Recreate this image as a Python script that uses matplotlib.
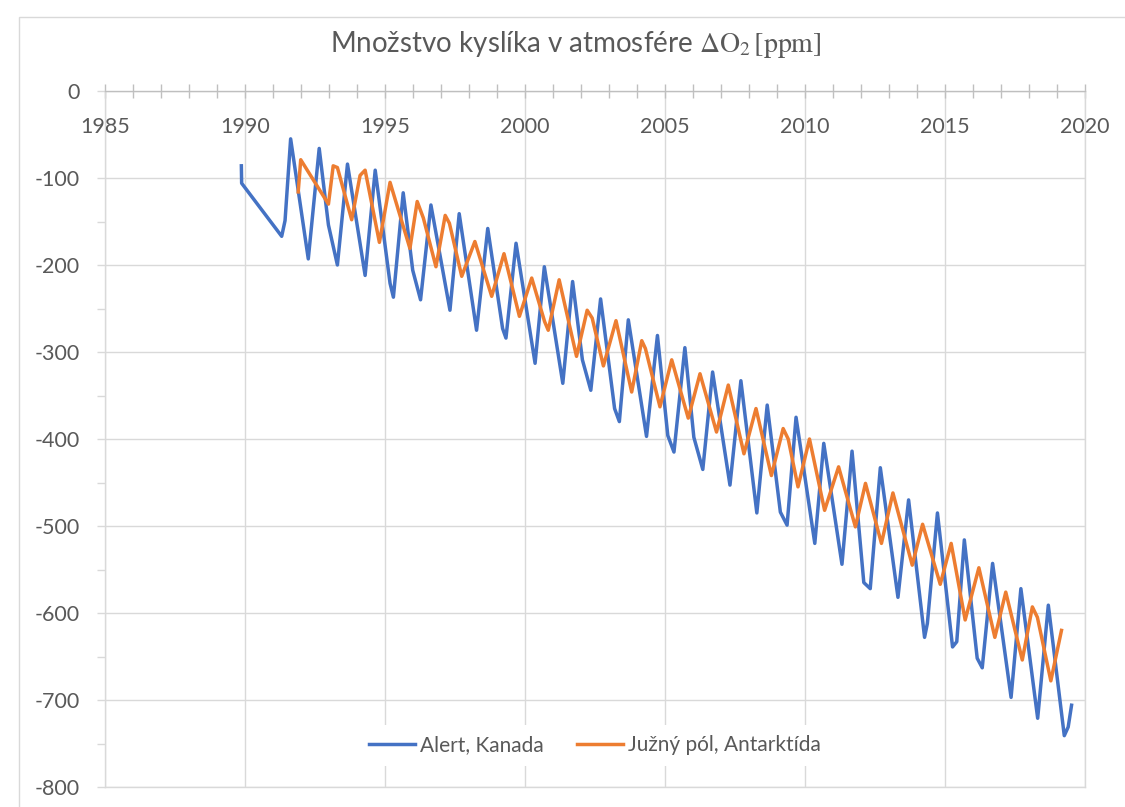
import matplotlib
matplotlib.use("Agg")
import matplotlib.pyplot as plt
from matplotlib.patches import Rectangle
from matplotlib.ticker import MultipleLocator, FixedLocator

plt.rcParams['font.family'] = ['Lato', 'DejaVu Sans']
plt.rcParams['mathtext.fontset'] = 'stix'
plt.rcParams['axes.unicode_minus'] = False

# seasonal extremes of the delta O2 record, (decimal year, ppm)
alert_year = [1989.87, 1989.88, 1991.31, 1991.43, 1991.63, 1992.26, 1992.65, 1992.98,
              1993.30, 1993.66, 1994.29, 1994.65, 1995.18, 1995.30, 1995.65, 1995.99,
              1996.27, 1996.64, 1997.32, 1997.65, 1998.27, 1998.67, 1999.20, 1999.32,
              1999.68, 2000.36, 2000.69, 2001.35, 2001.70, 2002.05, 2002.35, 2002.70,
              2003.20, 2003.37, 2003.69, 2004.34, 2004.73, 2005.10, 2005.32, 2005.71,
              2006.03, 2006.35, 2006.70, 2007.32, 2007.71, 2008.28, 2008.65, 2009.12,
              2009.36, 2009.68, 2010.35, 2010.67, 2011.32, 2011.68, 2012.10, 2012.33,
              2012.69, 2013.32, 2013.70, 2014.27, 2014.37, 2014.73, 2015.27, 2015.42,
              2015.69, 2016.15, 2016.33, 2016.70, 2017.36, 2017.71, 2018.31, 2018.69,
              2019.26, 2019.40, 2019.52]
alert_o2 = [-86, -106, -167, -149, -55, -193, -66, -154,
            -200, -84, -212, -91, -221, -237, -117, -206,
            -240, -131, -252, -141, -275, -158, -273, -284,
            -175, -313, -202, -336, -219, -309, -344, -239,
            -365, -380, -263, -397, -281, -396, -415, -295,
            -398, -435, -323, -453, -333, -485, -361, -484,
            -499, -375, -520, -405, -544, -414, -565, -572,
            -433, -582, -470, -628, -612, -485, -639, -633,
            -516, -652, -663, -543, -697, -572, -721, -591,
            -741, -731, -706]

pole_year = [1991.90, 1991.99, 1992.98, 1993.15, 1993.30, 1993.81, 1994.11, 1994.29,
             1994.80, 1995.18, 1995.89, 1996.15, 1996.37, 1996.82, 1997.15, 1997.30,
             1997.74, 1998.21, 1998.81, 1999.25, 1999.80, 2000.24, 2000.70, 2000.83,
             2001.22, 2001.84, 2002.22, 2002.40, 2002.80, 2003.25, 2003.81, 2004.17,
             2004.30, 2004.82, 2005.24, 2005.83, 2006.25, 2006.84, 2007.26, 2007.82,
             2008.25, 2008.80, 2009.22, 2009.40, 2009.75, 2010.16, 2010.70, 2011.20,
             2011.80, 2012.16, 2012.73, 2013.14, 2013.83, 2014.20, 2014.83, 2015.22,
             2015.72, 2016.21, 2016.78, 2017.17, 2017.76, 2018.12, 2018.30, 2018.78,
             2019.16]
pole_o2 = [-116, -79, -130, -86, -88, -148, -97, -91,
           -174, -105, -181, -127, -146, -202, -143, -152,
           -213, -173, -236, -187, -259, -215, -265, -275,
           -217, -305, -252, -261, -316, -264, -346, -287,
           -296, -363, -309, -376, -325, -392, -338, -417,
           -365, -442, -388, -400, -455, -400, -482, -432,
           -501, -451, -520, -462, -545, -498, -567, -520,
           -608, -548, -628, -576, -654, -593, -605, -678,
           -620]

series_names = ['Alert, Kanada', 'Južný pól, Antarktída']
title_text = 'Množstvo kyslíka v atmosfére $\\Delta\\mathrm{O}_2\\,[\\mathrm{ppm}]$'

grid_c = '#D9D9D9'
axis_c = '#BFBFBF'
text_c = '#595959'

fig = plt.figure(figsize=(11.25, 8.07), dpi=100)
fig.patches.append(Rectangle((19 / 1125, -0.1), 1.2, 1.1 - 17 / 807, transform=fig.transFigure,
                             fill=False, edgecolor=grid_c, lw=1.0))

ax = fig.add_axes([105 / 1125, 1 - 787 / 807, 980 / 1125, 696 / 807])
ax.set_xlim(1985, 2020)
ax.set_ylim(-800, 0)

ax.plot(alert_year, alert_o2, color='#4472C4', lw=2.5, solid_joinstyle='round', label=series_names[0])
ax.plot(pole_year, pole_o2, color='#ED7D31', lw=2.5, solid_joinstyle='round', label=series_names[1])

# category axis sits on the zero line at the top
ax.xaxis.tick_top()
ax.xaxis.set_major_locator(MultipleLocator(5))
ax.xaxis.set_minor_locator(MultipleLocator(1))
ax.tick_params(axis='x', which='both', direction='inout', length=10, width=1, color=axis_c,
               labeltop=False, labelbottom=False)
for yr in range(1985, 2021, 5):
    ax.annotate(str(yr), xy=(yr, 0), xytext=(0, -26), textcoords='offset points',
                ha='center', va='center', fontsize=15.5, color=text_c, annotation_clip=False)

ax.yaxis.set_major_locator(MultipleLocator(100))
ax.yaxis.set_minor_locator(FixedLocator(list(range(-750, -100, 100))))
ax.tick_params(axis='y', which='both', direction='out', length=6, width=1, color=grid_c,
               labelsize=15.5, labelcolor=text_c, pad=12)

ax.grid(True, which='major', color=grid_c, lw=1.0)
ax.set_axisbelow(True)
for side in ['left', 'right', 'bottom']:
    ax.spines[side].set_color(grid_c)
    ax.spines[side].set_linewidth(1.0)
ax.spines['top'].set_color(axis_c)
ax.spines['top'].set_linewidth(1.0)

leg = ax.legend(loc='center', bbox_to_anchor=(0.5, 0.06), ncol=2, fontsize=15, frameon=True,
                facecolor='white', edgecolor='none', framealpha=1, handlelength=2.2,
                handletextpad=0.25, columnspacing=1.6, borderpad=0.5)
for t in leg.get_texts():
    t.set_color(text_c)

fig.text(576 / 1125, 1 - 45 / 807, title_text, ha='center', va='center', fontsize=20, color=text_c)

fig.savefig('out.png', dpi=100)
